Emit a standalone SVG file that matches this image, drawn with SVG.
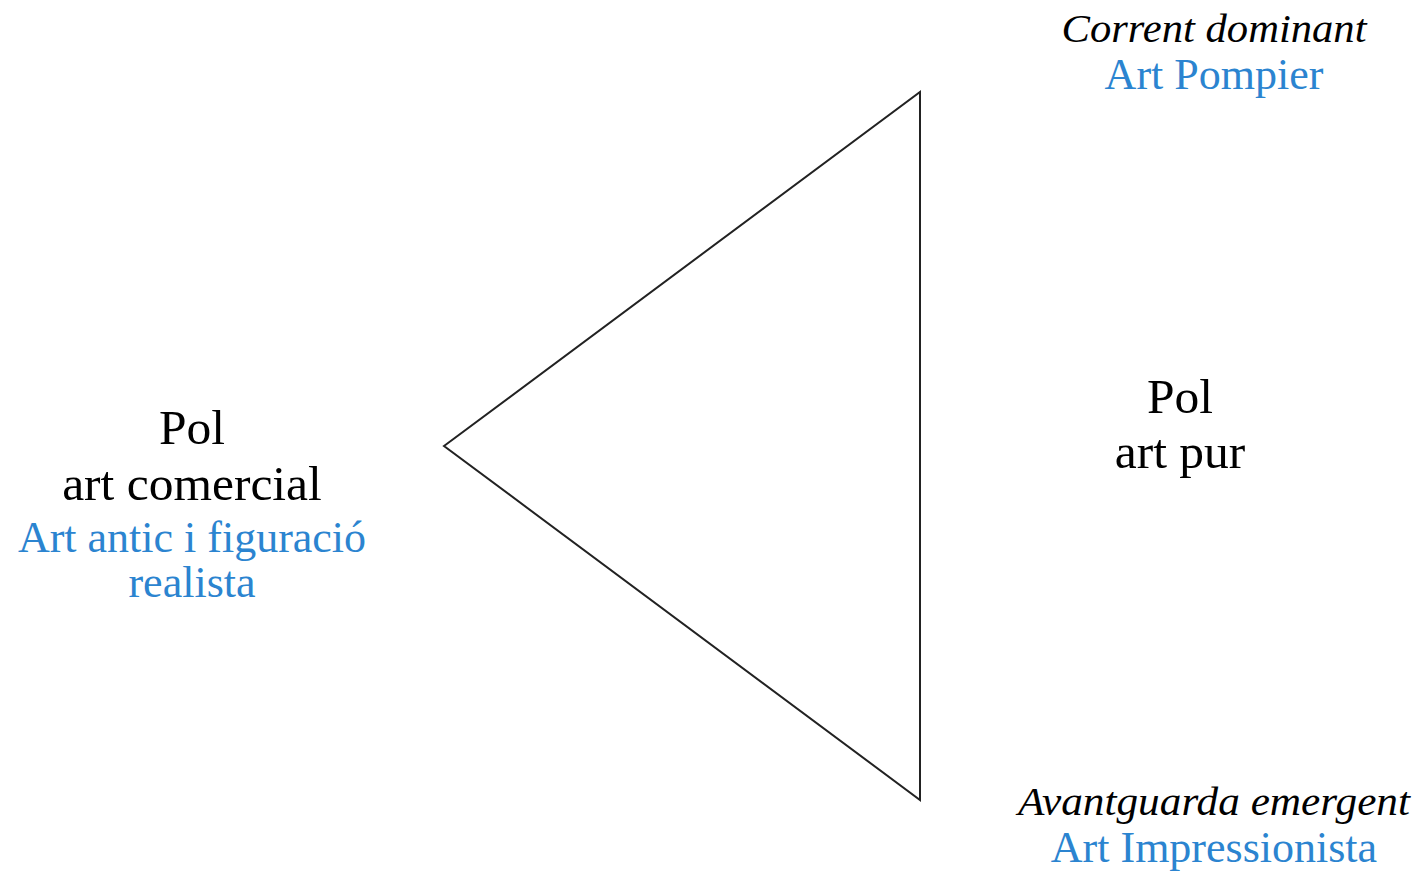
<svg xmlns="http://www.w3.org/2000/svg" width="1418" height="873" viewBox="0 0 1418 873">
<style>
.blk{font-family:"Liberation Serif","Times New Roman",serif;font-size:49.5px;fill:#000;text-anchor:middle}
.blu{font-family:"Liberation Serif","Times New Roman",serif;font-size:44px;fill:#2b84d0;text-anchor:middle}
.it{font-family:"Liberation Serif","Times New Roman",serif;font-style:italic;font-size:41px;fill:#000;text-anchor:middle}
</style>
<rect width="1418" height="873" fill="#fff"/>
<g id="connectors">
<polygon points="444,446 920,92 920,800" fill="none" stroke="#222" stroke-width="2"/>
</g>
<g id="top">
<text class="it" x="1214" y="42" textLength="305" lengthAdjust="spacingAndGlyphs">Corrent dominant</text>
<text class="blu" x="1214" y="89">Art Pompier</text>
</g>
<g id="left">
<text class="blk" x="192" y="444">Pol</text>
<text class="blk" x="192" y="500">art comercial</text>
<text class="blu" x="192" y="552">Art antic i figuració</text>
<text class="blu" x="192" y="597">realista</text>
</g>
<g id="right">
<text class="blk" x="1180" y="413">Pol</text>
<text class="blk" x="1180" y="468">art pur</text>
</g>
<g id="bottom">
<text class="it" x="1214" y="815" textLength="392" lengthAdjust="spacingAndGlyphs">Avantguarda emergent</text>
<text class="blu" x="1214" y="862">Art Impressionista</text>
</g>
</svg>
